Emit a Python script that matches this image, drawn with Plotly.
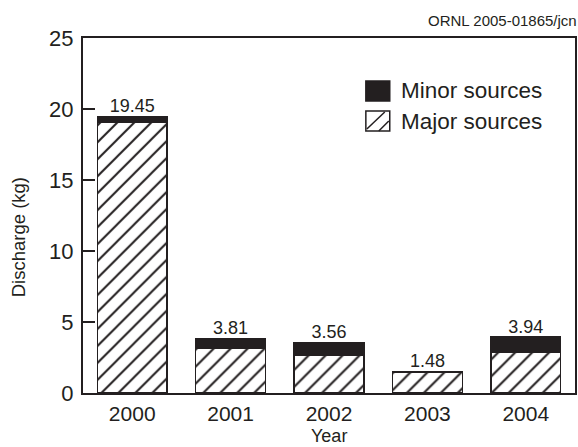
import plotly.graph_objects as go

# Annual discharge, split into major and minor sources (kg)
years = ["2000", "2001", "2002", "2003", "2004"]
totals = [19.45, 3.81, 3.56, 1.48, 3.94]
major = [19.10, 3.14, 2.63, 1.48, 2.84]
minor = [round(t - m, 2) for t, m in zip(totals, major)]
total_labels = [f"{t:.2f}" for t in totals]

y_ticks = [0, 5, 10, 15, 20, 25]

INK = "#231f20"
FONT = "Liberation Sans, Arial, Helvetica, sans-serif"

W, H = 578, 447
M = dict(l=83, r=1, t=38, b=54)
PW = W - M["l"] - M["r"]
PH = H - M["t"] - M["b"]


def px_x(x):
    return (x - M["l"]) / PW


def px_y(y):
    return (H - M["b"] - y) / PH


fig = go.Figure()

fig.add_trace(go.Bar(
    x=years, y=major, name="Major sources",
    marker=dict(
        color="white",
        line=dict(color=INK, width=1.5),
        pattern=dict(shape="/", fgcolor=INK, bgcolor="white",
                     size=12, solidity=0.17, fillmode="replace"),
    ),
    showlegend=False,
))
fig.add_trace(go.Bar(
    x=years, y=minor, name="Minor sources",
    marker=dict(color=INK, line=dict(color=INK, width=1.5)),
    showlegend=False,
))
fig.add_trace(go.Scatter(
    x=years, y=totals, mode="text", text=total_labels,
    textposition="top center",
    textfont=dict(family=FONT, size=18, color=INK),
    showlegend=False, hoverinfo="skip",
))

# Legend keys
shapes = [
    dict(type="rect", xref="paper", yref="paper",
         x0=px_x(367), x1=px_x(391), y0=px_y(101), y1=px_y(81),
         fillcolor=INK, line=dict(color=INK, width=1.5)),
    dict(type="rect", xref="paper", yref="paper",
         x0=px_x(367), x1=px_x(391), y0=px_y(131), y1=px_y(111),
         fillcolor="white", line=dict(color=INK, width=1.5)),
    dict(type="line", xref="paper", yref="paper",
         x0=px_x(368), y0=px_y(129), x1=px_x(386), y1=px_y(112),
         line=dict(color=INK, width=1.5)),
    dict(type="line", xref="paper", yref="paper",
         x0=px_x(380), y0=px_y(131), x1=px_x(390), y1=px_y(121),
         line=dict(color=INK, width=1.5)),
]

annotations = [
    dict(text="Minor sources", xref="paper", yref="paper",
         x=px_x(400), y=px_y(90), xanchor="left", yanchor="middle",
         showarrow=False, font=dict(family=FONT, size=22.5, color=INK)),
    dict(text="Major sources", xref="paper", yref="paper",
         x=px_x(400), y=px_y(121), xanchor="left", yanchor="middle",
         showarrow=False, font=dict(family=FONT, size=22.5, color=INK)),
    dict(text="ORNL 2005-01865/jcn", xref="paper", yref="paper",
         x=px_x(581), y=px_y(20), xanchor="right", yanchor="middle",
         showarrow=False, font=dict(family=FONT, size=15, color=INK)),
    dict(text="Discharge (kg)", xref="paper", yref="paper",
         x=px_x(19), y=px_y(237), xanchor="center", yanchor="middle",
         textangle=-90, showarrow=False,
         font=dict(family=FONT, size=18.5, color=INK)),
    dict(text="Year", xref="paper", yref="paper",
         x=0.5, y=px_y(447), xanchor="center", yanchor="bottom",
         borderpad=0, showarrow=False,
         font=dict(family=FONT, size=18, color=INK)),
]

fig.update_layout(
    width=W, height=H, margin=M,
    barmode="stack", bargap=0.29,
    plot_bgcolor="white", paper_bgcolor="white",
    font=dict(family=FONT, color=INK),
    shapes=shapes, annotations=annotations,
)

fig.update_xaxes(
    type="category", range=[-0.5, 4.5],
    showline=True, linecolor=INK, linewidth=2, mirror=True,
    ticks="", showgrid=False, zeroline=False,
    tickfont=dict(family=FONT, size=21, color=INK),
    ticklabelstandoff=1,
)
fig.update_yaxes(
    range=[0, 25], tickvals=y_ticks,
    showline=True, linecolor=INK, linewidth=2, mirror=True,
    ticks="inside", ticklen=12, tickwidth=1.5, tickcolor=INK,
    showgrid=False, zeroline=False,
    tickfont=dict(family=FONT, size=22, color=INK),
    ticklabelstandoff=3,
)

fig.write_html("out.html")
